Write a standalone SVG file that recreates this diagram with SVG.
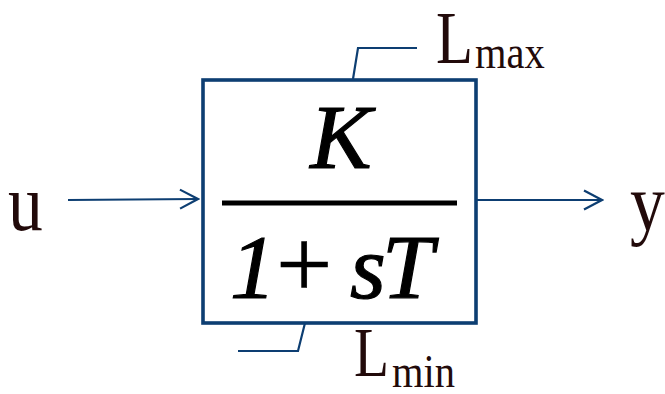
<svg xmlns="http://www.w3.org/2000/svg" width="665" height="394" viewBox="0 0 665 394">
<style>
.wire{fill:none;stroke:#0d3e72;stroke-width:2.2}
.box{fill:#ffffff;stroke:#0d3e72;stroke-width:3.6}
.lbl{font-family:"Liberation Serif","Times New Roman",serif;fill:#220a0a}
.math{font-family:"Liberation Serif","Times New Roman",serif;fill:#000000;stroke:#000000;stroke-width:1.2;font-style:italic}
.up{font-style:normal;stroke-width:0.6}
</style>
<defs>
<marker id="chev" viewBox="-20 -11 22 22" markerWidth="22" markerHeight="22" refX="0" refY="0" orient="auto" markerUnits="userSpaceOnUse">
<path d="M -18 -9.5 L 0 0 L -18 9.5" fill="none" stroke="#0d3e72" stroke-width="2.2"/>
</marker>
</defs>
<g id="connectors">
<line class="wire" x1="68" y1="200" x2="198" y2="199" marker-end="url(#chev)"/>
<line class="wire" x1="476" y1="200" x2="602" y2="200" marker-end="url(#chev)"/>
<polyline class="wire" points="353,79 358,48 417,48"/>
<polyline class="wire" points="305,323 298,351 238,351"/>
</g>
<g id="block">
<rect class="box" x="203" y="80" width="273" height="243"/>
<text class="math" x="341" y="168" font-size="92" text-anchor="middle">K</text>
<line x1="222" y1="203" x2="457" y2="203" stroke="#000" stroke-width="5"/>
<text class="math" y="298" font-size="92"><tspan x="230">1</tspan><tspan class="up" x="276" font-size="100">+</tspan><tspan x="350">s</tspan><tspan x="382">T</tspan></text>
</g>
<g id="input-u">
<text class="lbl" transform="translate(8,230) scale(0.87,1)" font-size="80">u</text>
</g>
<g id="output-y">
<text class="lbl" transform="translate(630,230) scale(0.87,1)" font-size="80">y</text>
</g>
<g id="lmax">
<text class="lbl" transform="translate(436,63) scale(0.82,1)" font-size="74">L</text>
<text class="lbl" transform="translate(475,68) scale(0.88,1)" font-size="46">max</text>
</g>
<g id="lmin">
<text class="lbl" transform="translate(354,376) scale(0.82,1)" font-size="70">L</text>
<text class="lbl" transform="translate(392,387) scale(0.88,1)" font-size="46">min</text>
</g>
</svg>
